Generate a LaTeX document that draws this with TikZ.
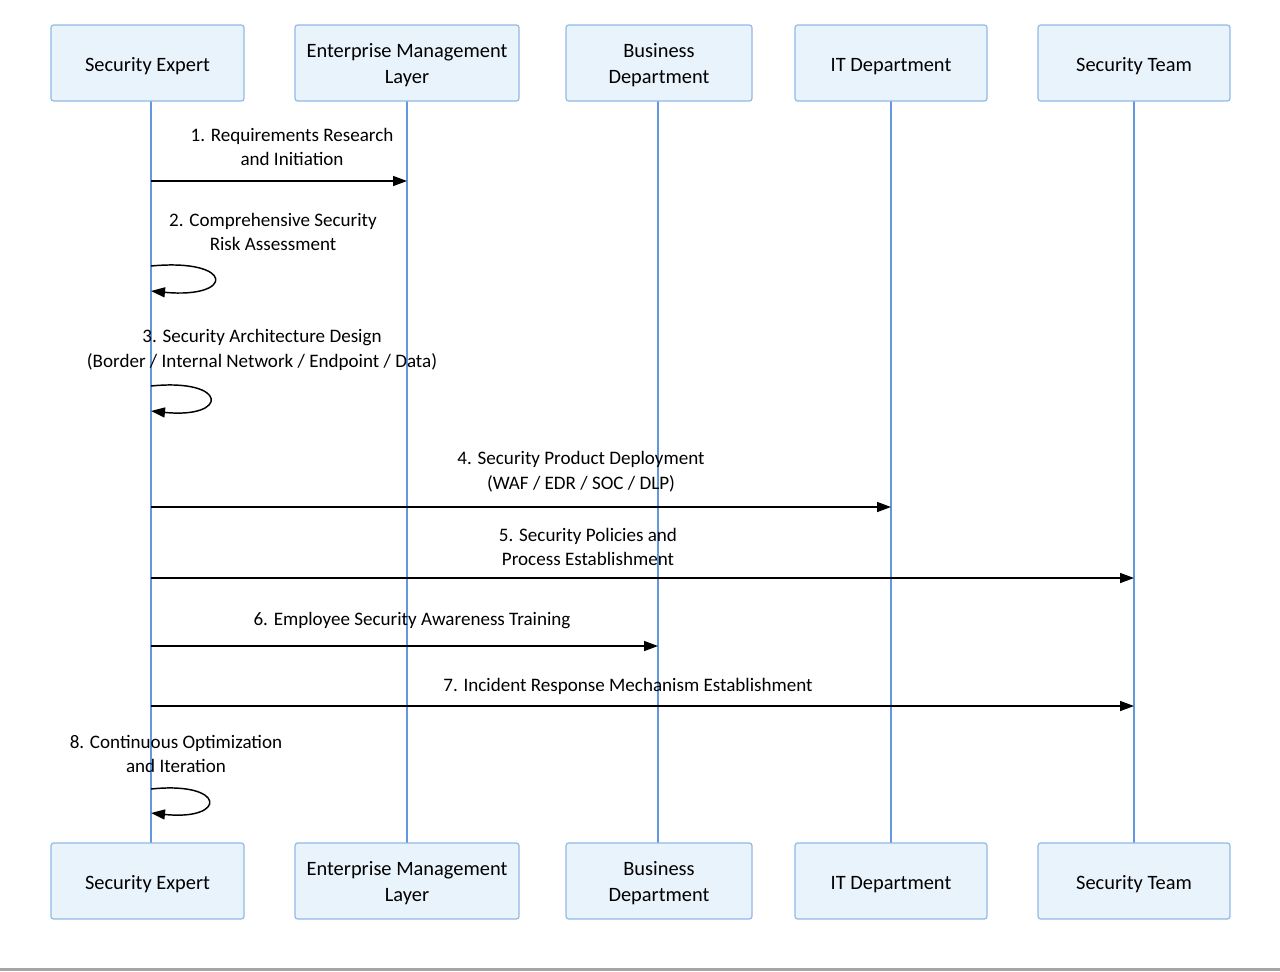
\documentclass[tikz,border=0pt]{standalone}
\usepackage{fontspec}
\setmainfont{Carlito}
\usetikzlibrary{arrows.meta}
\definecolor{boxfill}{RGB}{233,243,252}
\definecolor{boxline}{RGB}{145,186,228}
\definecolor{lifeline}{RGB}{100,152,222}
\definecolor{band}{RGB}{165,165,165}
\tikzset{
  actor/.style={draw=boxline, fill=boxfill, line width=0.9pt, rounded corners=2pt,
    minimum height=76*0.75pt, inner sep=0pt},
  actortxt/.style={align=center, inner sep=0pt,
    font=\fontsize{15.3pt}{19.5pt}\selectfont},
  life/.style={draw=lifeline, line width=1.1pt},
  msg/.style={draw=black, line width=1.1pt, -{Triangle[length=10.5pt,width=7.5pt]}},
  lbl/.style={align=center, inner sep=0pt, font=\fontsize{14.3pt}{18.5pt}\selectfont}
}
\begin{document}
\begin{tikzpicture}[x=0.75pt,y=-0.75pt]
\useasboundingbox (0,0) rectangle (1280,971);
\fill[white] (0,0) rectangle (1280,971);
\fill[band] (0,967.5) rectangle (1280,971);

% lifeline coordinates
\coordinate (L1) at (151,0);
\coordinate (L2) at (407,0);
\coordinate (L3) at (658,0);
\coordinate (L4) at (891,0);
\coordinate (L5) at (1134,0);

% lifelines (drawn first, under boxes)
\foreach \l in {L1,L2,L3,L4,L5}{
  \draw[life] (\l |- 0,101) -- (\l |- 0,843);
}

% top actors
\node[actor, minimum width=193*0.75pt] (seT) at (147.5,63) {};
\node[actor, minimum width=224*0.75pt] (emT) at (407,63) {};
\node[actor, minimum width=186*0.75pt] (bdT) at (659,63) {};
\node[actor, minimum width=192*0.75pt] (itT) at (891,63) {};
\node[actor, minimum width=192*0.75pt] (stT) at (1134,63) {};
\node[actortxt] (seTt) at (147.5,66) {Security Expert};
\node[actortxt] (emTt) at (407,65) {Enterprise Management\\Layer};
\node[actortxt] (bdTt) at (659,65) {Business\\Department};
\node[actortxt] (itTt) at (891,67) {IT Department};
\node[actortxt] (stTt) at (1134,66) {Security Team};

% bottom actors
\node[actor, minimum width=193*0.75pt] (seB) at (147.5,881) {};
\node[actor, minimum width=224*0.75pt] (emB) at (407,881) {};
\node[actor, minimum width=186*0.75pt] (bdB) at (659,881) {};
\node[actor, minimum width=192*0.75pt] (itB) at (891,881) {};
\node[actor, minimum width=192*0.75pt] (stB) at (1134,881) {};
\node[actortxt] (seBt) at (147.5,884) {Security Expert};
\node[actortxt] (emBt) at (407,883) {Enterprise Management\\Layer};
\node[actortxt] (bdBt) at (659,883) {Business\\Department};
\node[actortxt] (itBt) at (891,885) {IT Department};
\node[actortxt] (stBt) at (1134,884) {Security Team};

% message 1
\node[lbl] (m1) at (292,147) {1. Requirements Research\\and Initiation};
\draw[msg] (L1 |- 0,181) -- (L2 |- 0,181);

% message 2 (self)
\node[lbl] (m2) at (273,232) {2. Comprehensive Security\\Risk Assessment};
\coordinate (s2a) at (151,266);
\coordinate (s2b) at (151,291);
\draw[msg] (s2a) .. controls (235,258) and (235,299) .. (s2b);

% message 3 (self)
\node[lbl] (m3) at (262,350) {3. Security Architecture Design\\(Border / Internal Network / Endpoint / Data)};
\coordinate (s3a) at (151,386);
\coordinate (s3b) at (151,411);
\draw[msg] (s3a) .. controls (229,378) and (229,419) .. (s3b);

% message 4
\node[lbl] (m4) at (581,472) {4. Security Product Deployment\\(WAF / EDR / SOC / DLP)};
\draw[msg] (L1 |- 0,507) -- (L4 |- 0,507);

% message 5
\node[lbl] (m5) at (588,547) {5. Security Policies and\\Process Establishment};
\draw[msg] (L1 |- 0,578) -- (L5 |- 0,578);

% message 6
\node[lbl] (m6) at (412,621) {6. Employee Security Awareness Training};
\draw[msg] (L1 |- 0,646) -- (L3 |- 0,646);

% message 7
\node[lbl] (m7) at (628,686) {7. Incident Response Mechanism Establishment};
\draw[msg] (L1 |- 0,706) -- (L5 |- 0,706);

% message 8 (self)
\node[lbl] (m8) at (176,754) {8. Continuous Optimization\\and Iteration};
\coordinate (s8a) at (151,789);
\coordinate (s8b) at (151,813);
\draw[msg] (s8a) .. controls (227,781) and (227,821) .. (s8b);
\end{tikzpicture}
\end{document}
